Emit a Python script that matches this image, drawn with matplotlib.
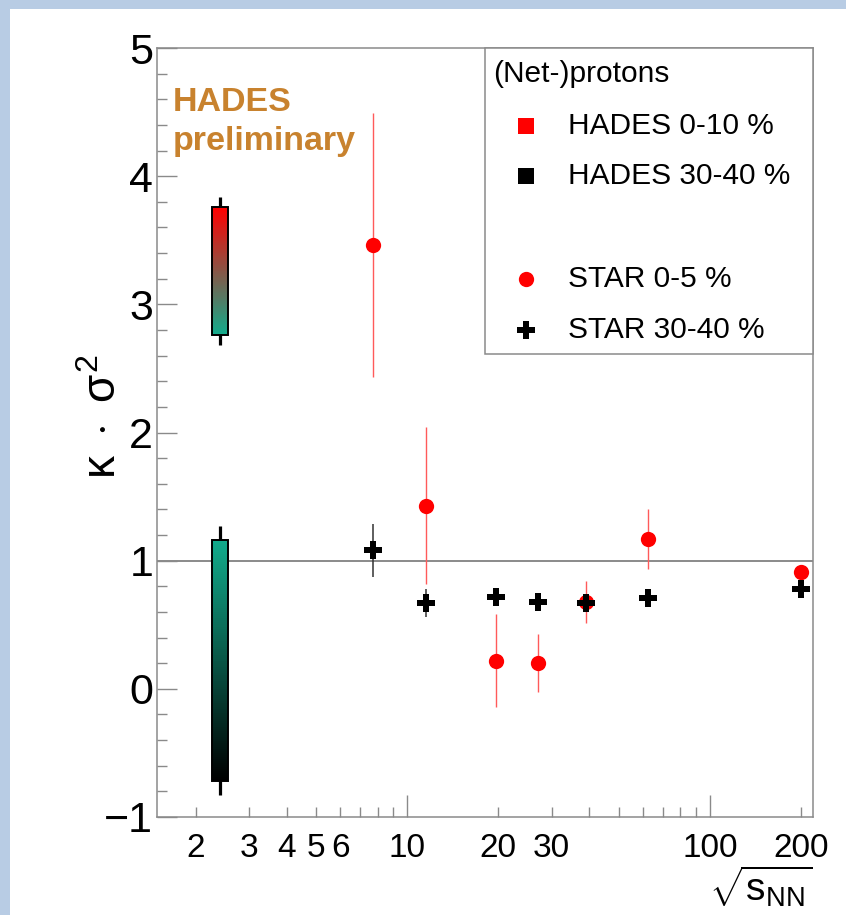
import matplotlib
matplotlib.use("Agg")
import matplotlib.pyplot as plt
import numpy as np
from matplotlib.colors import LinearSegmentedColormap
from matplotlib.patches import Rectangle
from matplotlib.ticker import FixedLocator, FuncFormatter, MultipleLocator

plt.rcParams["font.family"] = ["Liberation Sans", "DejaVu Sans"]
plt.rcParams["mathtext.fontset"] = "custom"
plt.rcParams["mathtext.rm"] = "Liberation Sans"
plt.rcParams["mathtext.it"] = "Liberation Sans"
plt.rcParams["mathtext.sf"] = "Liberation Sans"
plt.rcParams["axes.unicode_minus"] = True

# STAR net-proton kappa*sigma^2 vs collision energy
star_energy = [7.7, 11.5, 19.6, 27.0, 39.0, 62.4, 200.0]
star_central = [3.46, 1.43, 0.22, 0.20, 0.68, 1.17, 0.91]
star_central_err = [1.03, 0.61, 0.365, 0.225, 0.165, 0.235, 0.03]
star_peripheral = [1.08, 0.67, 0.72, 0.675, 0.67, 0.71, 0.78]
star_peripheral_err = [0.205, 0.11, 0.04, 0.04, 0.04, 0.04, 0.03]

# HADES proton kappa*sigma^2 at sqrt(s_NN) = 2.4 GeV
hades_energy = 2.4
hades_central = 3.26
hades_central_sys = 0.50
hades_central_stat = 0.58
hades_peripheral = 0.22
hades_peripheral_sys = 0.94
hades_peripheral_stat = 1.05

x_major_ticks = [10, 100]
x_minor_ticks = [2, 3, 4, 5, 6, 7, 8, 9, 20, 30, 40, 50, 60, 70, 80, 90, 200]
x_labelled = [2, 3, 4, 5, 6, 10, 20, 30, 100, 200]

legend_header = "(Net-)protons"
legend_labels = ["HADES 0-10 %", "HADES 30-40 %", "STAR 0-5 %", "STAR 30-40 %"]

FRAME = "#8a8a8a"
RED = "#ff0000"
TEAL = "#12ab8c"

fig = plt.figure(figsize=(8.46, 9.15), dpi=100)
fig.patch.set_facecolor("#b8cce4")
fig.add_artist(Rectangle((10 / 846, 0), 1, 1 - 9 / 915, transform=fig.transFigure,
                         facecolor="white", edgecolor="none", zorder=-10))

ax = fig.add_axes([157.3 / 846, 98 / 915, 655.7 / 846, 769 / 915])
ax.set_xscale("log")
ax.set_xlim(1.491, 219.4)
ax.set_ylim(-1, 5)

# reference line at kappa*sigma^2 = 1
ax.axhline(1.0, color=FRAME, lw=1.4, zorder=1)


def hades_box(value, sys, stat, c_top, c_bottom):
    half = 0.0265
    x0, x1 = hades_energy * 10 ** -half, hades_energy * 10 ** half
    y0, y1 = value - sys, value + sys
    ax.errorbar([hades_energy], [value], yerr=[stat], fmt="none", ecolor="black",
                elinewidth=2.3, capsize=0, zorder=3)
    cmap = LinearSegmentedColormap.from_list("grad", [c_bottom, c_top])
    n = 120
    ys = np.linspace(y0, y1, n + 1)
    c = np.linspace(0, 1, n).reshape(-1, 1)
    ax.pcolormesh([x0, x1], ys, c, cmap=cmap, shading="flat", zorder=4)
    ax.add_patch(Rectangle((x0, y0), x1 - x0, y1 - y0, fill=False,
                           edgecolor="black", lw=1.4, zorder=5))


hades_box(hades_central, hades_central_sys, hades_central_stat, RED, TEAL)
hades_box(hades_peripheral, hades_peripheral_sys, hades_peripheral_stat, TEAL, "black")

ax.errorbar(star_energy, star_central, yerr=star_central_err, fmt="o", color=RED,
            ms=11, mew=0, ecolor="#ff5a5a", elinewidth=1.0, capsize=2.5,
            capthick=1.2, zorder=6)
ax.errorbar(star_energy, star_peripheral, yerr=star_peripheral_err, fmt="P",
            color="black", ms=12.5, mew=0, ecolor="#333333", elinewidth=1.1,
            capsize=2.5, capthick=1.2, zorder=7)

# axes styling
for sp in ax.spines.values():
    sp.set_color(FRAME)
    sp.set_linewidth(1.1)

ax.xaxis.set_major_locator(FixedLocator(x_major_ticks))
ax.xaxis.set_minor_locator(FixedLocator(x_minor_ticks))
fmt = FuncFormatter(lambda v, p: f"{v:g}" if round(v) in x_labelled else "")
ax.xaxis.set_major_formatter(fmt)
ax.xaxis.set_minor_formatter(fmt)
ax.yaxis.set_major_locator(MultipleLocator(1))
ax.yaxis.set_minor_locator(MultipleLocator(0.2))

ax.tick_params(axis="x", which="major", direction="in", length=15.8, width=1.0,
               color=FRAME, labelsize=24, pad=11.5)
ax.tick_params(axis="x", which="minor", direction="in", length=7.2, width=1.0,
               color=FRAME, labelsize=24, pad=11.5)
ax.tick_params(axis="y", which="major", direction="in", length=14.4, width=1.0,
               color=FRAME, labelsize=31, pad=3)
ax.tick_params(axis="y", which="minor", direction="in", length=7.2, width=1.0,
               color=FRAME)

# legend box
ax.add_patch(Rectangle((0.5, 0.602), 0.5, 0.398, transform=ax.transAxes,
                       facecolor="white", edgecolor=FRAME, lw=1.1, zorder=8,
                       clip_on=False))
ax.text(0.5127, 0.9666, legend_header, transform=ax.transAxes, va="center",
        ha="left", fontsize=21.5, zorder=9)
rows_y = [0.8988, 0.8330, 0.6996, 0.6338]
styles = [dict(marker="s", color=RED, ms=11), dict(marker="s", color="black", ms=11),
          dict(marker="o", color=RED, ms=11), dict(marker="P", color="black", ms=12.5)]
for y, lab, st in zip(rows_y, legend_labels, styles):
    ax.plot([0.5616], [y], transform=ax.transAxes, linestyle="none", mew=0,
            clip_on=False, zorder=9, **st)
    ax.text(0.6264, y, lab, transform=ax.transAxes, va="center", ha="left",
            fontsize=21.5, zorder=9)

# labels
fig.text(173 / 846, 1 - 110.7 / 915, "HADES", color="#c8822e", fontsize=24.5,
         fontweight="bold", va="baseline", ha="left")
fig.text(173 / 846, 1 - 150 / 915, "preliminary", color="#c8822e", fontsize=24.5,
         fontweight="bold", va="baseline", ha="left")
fig.text(104 / 846, 1 - 417 / 915, r"$\kappa\ \cdot\ \sigma^{2}$", rotation=90,
         ha="center", va="center", fontsize=33)
fig.text(813 / 846, 1 - 864 / 915, r"$\sqrt{\mathrm{s}_{\mathrm{NN}}}$", ha="right",
         va="top", fontsize=28)

fig.savefig("out.png", dpi=100)
